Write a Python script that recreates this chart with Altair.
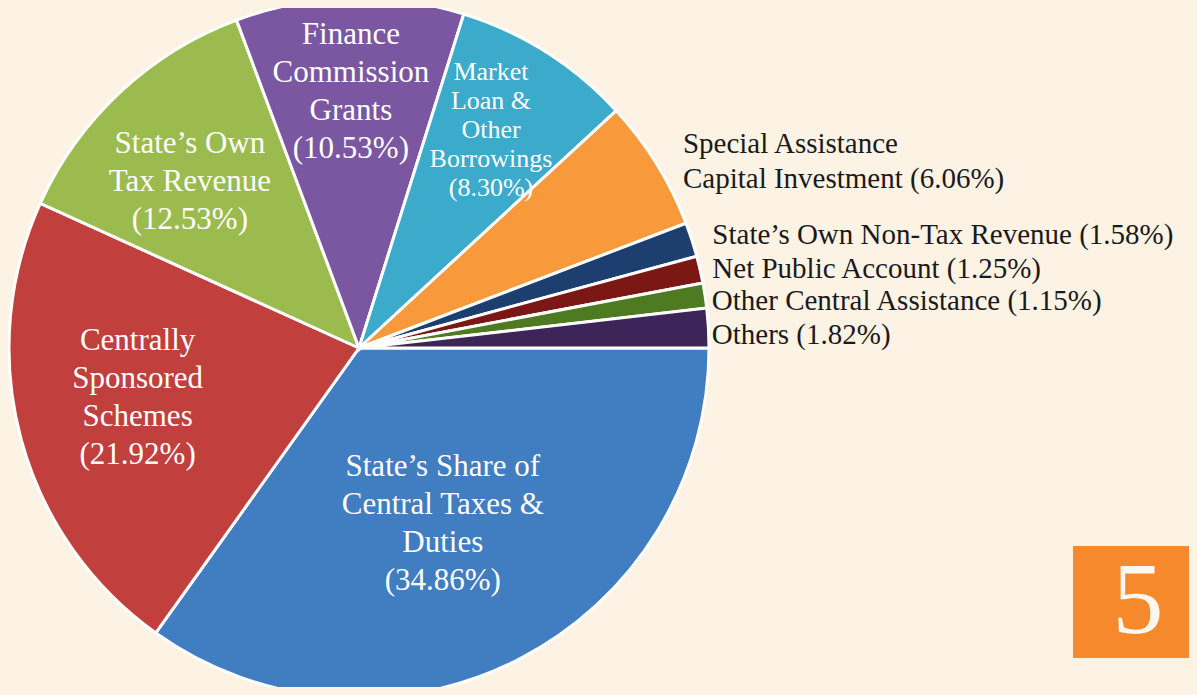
import math
import altair as alt
import pandas as pd

# ---------------- data ----------------
names = [
    "State’s Share of Central Taxes & Duties",
    "Centrally Sponsored Schemes",
    "State’s Own Tax Revenue",
    "Finance Commission Grants",
    "Market Loan & Other Borrowings",
    "Special Assistance Capital Investment",
    "State’s Own Non-Tax Revenue",
    "Net Public Account",
    "Other Central Assistance",
    "Others",
]
values = [34.86, 21.92, 12.53, 10.53, 8.30, 6.06, 1.58, 1.25, 1.15, 1.82]
label_lines = [
    ["State’s Share of", "Central Taxes &", "Duties"],
    ["Centrally", "Sponsored", "Schemes"],
    ["State’s Own", "Tax Revenue"],
    ["Finance", "Commission", "Grants"],
    ["Market", "Loan &", "Other", "Borrowings"],
    ["Special Assistance", "Capital Investment"],
    ["State’s Own Non-Tax Revenue"],
    ["Net Public Account"],
    ["Other Central Assistance"],
    ["Others"],
]
badge_text = "5"

# ---------------- style / layout ----------------
colors = ["#417DC1", "#C1403D", "#9BBB4E", "#7B57A1", "#3BAACB",
          "#F89A3B", "#1D3F6F", "#7B1714", "#4E7A22", "#3E2559"]
label_group = ["in", "in", "in", "in", "small", "out", "out", "out", "out", "out"]
label_radius = [195, 227, 237, 256, 255, 374, 371, 362, 356, 353]
label_nudge = [0.5, 0.64, -0.69, -0.08, -0.33, 0.5, 0.08, 0.11, 0.28, 0.33]
styles = {
    "in": dict(size=31, lh=38, color="white", align="center"),
    "small": dict(size=26, lh=29, color="white", align="center"),
    "out": dict(size=29, lh=35, color="#1A1A1A", align="left"),
}
BG = "#FDF3E4"
CX, CY, R = 351, 340, 350
W, H = 1181, 679


def make_label(lines, v, grp):
    pct = f"({v:.2f}%)"
    if grp == "out":
        ls = list(lines)
        ls[-1] = ls[-1] + " " + pct
        return ls
    return list(lines) + [pct]


labels = [make_label(l, v, g) for l, v, g in zip(label_lines, values, label_group)]
df = pd.DataFrame({
    "idx": list(range(len(names))),
    "name": names,
    "value": values,
    "label": ["\n".join(l) for l in labels],
    "nl": [len(l) for l in labels],
    "grp": label_group,
    "lr": label_radius,
    "nudge": label_nudge,
})

total = sum(values)
theta_scale = alt.Scale(domain=[0, total], range=[math.pi / 2, math.pi / 2 + 2 * math.pi])

arcs = alt.Chart(df).mark_arc(
    x=CX, y=CY, outerRadius=R, stroke="white", strokeWidth=3
).encode(
    theta=alt.Theta("value:Q", stack=True, scale=theta_scale),
    color=alt.Color("name:N", scale=alt.Scale(domain=names, range=colors), legend=None),
    order=alt.Order("idx:Q"),
)

stacked = alt.Chart(df).transform_stack(
    stack="value", groupby=[], as_=["v0", "v1"],
    sort=[alt.SortField("idx", order="ascending")],
).transform_calculate(mid="(datum.v0 + datum.v1) / 2 + datum.nudge")


def text_layer(grp, nl):
    s = styles[grp]
    return stacked.transform_filter(
        (alt.datum.grp == grp) & (alt.datum.nl == nl)
    ).mark_text(
        x=CX, y=CY, align=s["align"], baseline="middle", fontSize=s["size"],
        lineHeight=s["lh"], font="Liberation Serif", color=s["color"],
        lineBreak="\n", dy=-(nl - 1) * s["lh"] / 2,
    ).encode(
        theta=alt.Theta("mid:Q", scale=theta_scale),
        radius=alt.Radius("lr:Q", scale=None),
        text="label:N",
    )


combos = sorted(set(zip(df["grp"], df["nl"])))
text_layers = [text_layer(g, int(n)) for g, n in combos]

one = pd.DataFrame({"t": [badge_text]})
badge = alt.Chart(one).mark_rect(color="#F5892B").encode(
    x=alt.value(1065), x2=alt.value(1189), y=alt.value(538), y2=alt.value(650)
)
badge_t = alt.Chart(one).mark_text(
    fontSize=102, font="Liberation Serif", color="#FFF7EE", align="center",
    baseline="alphabetic",
).encode(x=alt.value(1130), y=alt.value(625), text="t:N")

chart = alt.layer(arcs, *text_layers, badge, badge_t).properties(
    width=W, height=H, autosize=alt.AutoSizeParams(type="none"), padding=0,
    background=BG,
).configure_view(stroke=None)

extra = {}
try:
    from altair.utils.html import TEMPLATES as _T
    _base = _T["standard"]

    class CreamPage:
        def render(self, **kw):
            html = _base.render(**kw)
            css = ("<style>html,body{background:%s;} svg{overflow:visible;}</style>" % BG)
            if "<head>" in html:
                return html.replace("<head>", "<head>" + css, 1)
            return css + html

    extra["template"] = CreamPage()
except Exception:
    pass

chart.save("out.html", embed_options={"renderer": "svg", "actions": False}, **extra)
